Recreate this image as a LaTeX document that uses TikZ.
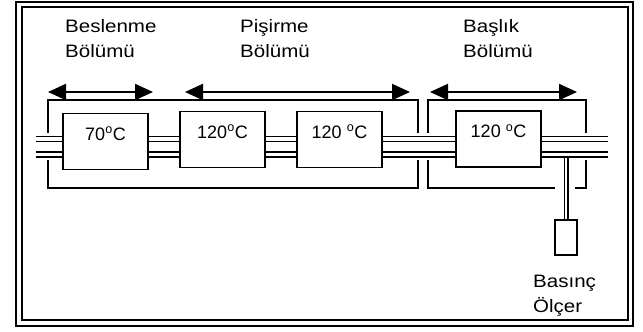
\documentclass[tikz,border=0pt]{standalone}
\usepackage{fontspec}
\setmainfont{Liberation Sans}
\newfontfamily\widefont[FakeStretch=1.14]{Liberation Sans}
\usetikzlibrary{arrows.meta}

\tikzset{
  unit/.style={draw, line width=1.3pt, fill=white, minimum width=85pt, minimum height=56pt,
    inner sep=0pt, text height=14pt, text depth=17pt, font=\fontsize{18}{20}\selectfont},
  section/.style={anchor=north west, inner sep=0pt, align=left, font=\widefont\fontsize{18}{25}\selectfont},
  span/.style={{Triangle[length=18pt,width=16pt]}-{Triangle[length=18pt,width=16pt]}, line width=2pt},
  pipe/.style={double, double distance=3.4pt, line width=1.5pt},
  bracket/.style={line width=1.3pt},
}

\begin{document}
\begin{tikzpicture}[x=1pt,y=-1pt]
\useasboundingbox (0,0) rectangle (643,332);
% double frame
\draw[line width=2pt] (16,2) rectangle (633,326);
\draw[line width=1.2pt] (22,7) rectangle (628,320);

% section labels
\node[section] (lblFeed) at (65,19) {Beslenme\\Bölümü};
\node[section] (lblCook) at (240,19) {Pişirme\\Bölümü};
\node[section] (lblHead) at (463,19) {Başlık\\Bölümü};

% section spans
\coordinate (feedL) at (48,92);  \coordinate (feedR) at (153,92);
\coordinate (cookL) at (185,92); \coordinate (cookR) at (410,92);
\coordinate (headL) at (430,92); \coordinate (headR) at (577,92);
\draw[span] (feedL) -- (feedR);
\draw[span] (cookL) -- (cookR);
\draw[span] (headL) -- (headR);

% section outlines
\draw[bracket] (48,100) rectangle (418,188);
\draw[bracket] (575,188) -| (586,100) -| (428,188) -- (555,188);
\fill[white] (30,133) rectangle (612,160);

% pressure gauge
\node[draw, line width=1.2pt, minimum width=22pt, minimum height=35pt, inner sep=0pt] (gauge) at (566,237.5) {};
\node[section] (lblGauge) at (533,275) {Basınç\\Ölçer};

% pipe line
\coordinate (pinT) at (36,139);    \coordinate (poutT) at (608,139);
\coordinate (pinB) at (36,154.5);  \coordinate (poutB) at (608,154.5);
\draw[pipe, line width=1.2pt, double distance=2.6pt] (gauge.north) -- (gauge.north |- poutB);
\draw[pipe] (pinT) -- (poutT);
\draw[pipe] (pinB) -- (poutB);

% heating units
\node[unit] (feed)  at (105.5,141.5) {70\textsuperscript{o}C};
\node[unit] (cookA) at (222.5,139.5) {120\textsuperscript{o}C};
\node[unit] (cookB) at (339.5,139.5) {120 \textsuperscript{o}C};
\node[unit] (head)  at (498.5,139)   {120 \textsuperscript{o}C};
\end{tikzpicture}
\end{document}
